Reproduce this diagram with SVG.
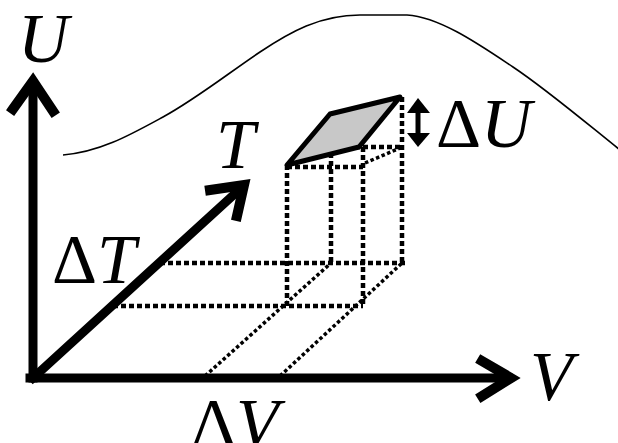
<svg xmlns="http://www.w3.org/2000/svg" width="618" height="443" viewBox="0 0 618 443">
<style>
.it{font-style:italic}
.axis{stroke:#000;stroke-width:9;fill:none;stroke-linecap:square;stroke-linejoin:miter}
.head{stroke:#000;stroke-width:10;fill:none;stroke-linecap:square;stroke-linejoin:miter}
.dot{stroke:#000;stroke-width:4.5;fill:none;stroke-dasharray:5 3}
.dotd{stroke:#000;stroke-width:3.5;fill:none;stroke-dasharray:3.5 2.5}
.curve{stroke:#000;stroke-width:1.6;fill:none}
</style>
<rect width="618" height="443" fill="#fff"/>
<g id="curve">
<path class="curve" d="M63,155 C100,152 130,135 163,117 S230,72 260,52 S320,15 360,15 L407,15 C440,17 480,45 513,67 S585,122 620,150"/>
</g>
<g id="connectors">
<g id="box">
<line class="dot" x1="287" y1="165" x2="287" y2="306"/>
<line class="dot" x1="331" y1="113" x2="331" y2="263"/>
<line class="dot" x1="363" y1="147" x2="363" y2="306"/>
<line class="dot" x1="402" y1="97" x2="402" y2="263"/>
<line class="dot" x1="287" y1="167" x2="363" y2="167"/>
<line class="dot" x1="331" y1="147" x2="402" y2="147"/>
<line class="dot" x1="160" y1="263" x2="405" y2="263"/>
<line class="dot" x1="113" y1="306" x2="363" y2="306"/>
<line class="dotd" x1="205" y1="376" x2="331" y2="263"/>
<line class="dotd" x1="280" y1="376" x2="402" y2="263"/>
<line class="dotd" x1="365" y1="163" x2="400" y2="148"/>
</g>
<g id="top-face">
<polygon points="287,165 330,114 400,97 359,147" fill="#c8c8c8" stroke="#000" stroke-width="5" stroke-linejoin="round"/>
</g>
<g id="u-axis">
<line class="axis" x1="33" y1="378" x2="33" y2="84"/>
<polyline class="head" points="13,109 33,81 53,111"/>
</g>
<g id="v-axis">
<line class="axis" x1="30" y1="378" x2="508" y2="378"/>
<polyline class="head" points="482,361 511,378 482,396"/>
</g>
<g id="t-axis">
<line class="axis" x1="33" y1="378" x2="240" y2="189"/>
<polyline class="head" points="210,190 244,185 237,216"/>
</g>
<g id="du-arrow">
<line stroke="#000" stroke-width="5" x1="418" y1="108" x2="418" y2="138"/>
<polygon points="407,113 418,98 430,113" fill="#000"/>
<polygon points="407,133 418,147 430,133" fill="#000"/>
</g>
</g>
<g id="labels">
<text class="it" x="18" y="62" font-family="Liberation Serif" font-size="70">U</text>
<text class="it" x="216" y="168" font-family="Liberation Serif" font-size="70">T</text>
<text x="436" y="147" font-family="Liberation Serif" font-size="70">Δ<tspan class="it">U</tspan></text>
<text x="52" y="283" font-family="Liberation Serif" font-size="70">Δ<tspan class="it">T</tspan></text>
<text class="it" x="530" y="400" font-family="Liberation Serif" font-size="70">V</text>
<text x="191" y="447" font-family="Liberation Serif" font-size="70">Δ<tspan class="it">V</tspan></text>
</g>
</svg>
